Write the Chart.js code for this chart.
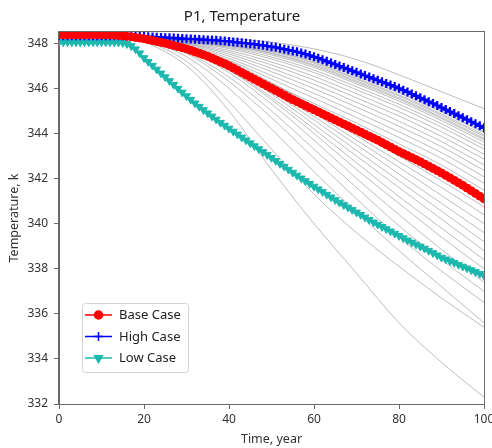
<!DOCTYPE html>
<html>
<head>
<meta charset="utf-8">
<script src="https://cdn.jsdelivr.net/npm/chart.js@4.4.1/dist/chart.umd.min.js"></script>
<style>
  html, body { margin: 0; padding: 0; background: #fff; overflow: hidden; }
  #wrap { width: 492px; height: 448px; position: relative; }
</style>
</head>
<body>
<div id="wrap"><canvas id="temp-chart"></canvas></div>
<script>
// P1 temperature ensemble: three named cases plus the other realizations (grey)
const years = [
    0, 1, 2, 3, 4, 5, 6, 7, 8, 9, 10, 11, 12, 13, 14, 15, 16, 17, 18, 19,
    20, 21, 22, 23, 24, 25, 26, 27, 28, 29, 30, 31, 32, 33, 34, 35, 36, 37, 38, 39,
    40, 41, 42, 43, 44, 45, 46, 47, 48, 49, 50, 51, 52, 53, 54, 55, 56, 57, 58, 59,
    60, 61, 62, 63, 64, 65, 66, 67, 68, 69, 70, 71, 72, 73, 74, 75, 76, 77, 78, 79,
    80, 81, 82, 83, 84, 85, 86, 87, 88, 89, 90, 91, 92, 93, 94, 95, 96, 97, 98, 99, 100
];

const baseCase = [
    348.38, 348.38, 348.38, 348.38, 348.38, 348.38, 348.38, 348.38, 348.38, 348.38,
    348.38, 348.38, 348.37, 348.36, 348.35, 348.33, 348.31, 348.29, 348.26, 348.23,
    348.20, 348.16, 348.12, 348.08, 348.04, 348.00, 347.95, 347.90, 347.85, 347.80,
    347.75, 347.69, 347.62, 347.56, 347.49, 347.42, 347.34, 347.26, 347.17, 347.09,
    347.00, 346.90, 346.80, 346.70, 346.60, 346.50, 346.40, 346.30, 346.20, 346.10,
    346.00, 345.90, 345.80, 345.70, 345.60, 345.50, 345.41, 345.32, 345.23, 345.14,
    345.05, 344.96, 344.87, 344.78, 344.69, 344.60, 344.51, 344.42, 344.33, 344.24,
    344.15, 344.06, 343.97, 343.88, 343.79, 343.70, 343.60, 343.50, 343.40, 343.30,
    343.20, 343.11, 343.02, 342.93, 342.84, 342.75, 342.65, 342.55, 342.45, 342.35,
    342.25, 342.14, 342.03, 341.92, 341.81, 341.70, 341.58, 341.46, 341.34, 341.22,
    341.10
];

const highCase = [
    348.33, 348.33, 348.33, 348.33, 348.33, 348.33, 348.33, 348.33, 348.33, 348.33,
    348.33, 348.33, 348.33, 348.33, 348.33, 348.33, 348.32, 348.32, 348.31, 348.31,
    348.30, 348.29, 348.28, 348.27, 348.26, 348.25, 348.24, 348.23, 348.22, 348.21,
    348.20, 348.19, 348.18, 348.17, 348.16, 348.15, 348.14, 348.13, 348.11, 348.10,
    348.08, 348.06, 348.04, 348.02, 348.00, 347.98, 347.96, 347.93, 347.91, 347.88,
    347.85, 347.82, 347.78, 347.74, 347.70, 347.66, 347.62, 347.57, 347.52, 347.46,
    347.40, 347.34, 347.27, 347.20, 347.13, 347.06, 346.99, 346.92, 346.85, 346.78,
    346.71, 346.64, 346.57, 346.50, 346.43, 346.36, 346.29, 346.22, 346.15, 346.08,
    346.00, 345.92, 345.84, 345.75, 345.67, 345.58, 345.50, 345.41, 345.33, 345.24,
    345.15, 345.06, 344.97, 344.88, 344.79, 344.70, 344.61, 344.52, 344.43, 344.34,
    344.25
];

const lowCase = [
    348.05, 348.05, 348.05, 348.05, 348.05, 348.05, 348.05, 348.05, 348.05, 348.05,
    348.05, 348.05, 348.05, 348.05, 348.04, 348.02, 347.97, 347.88, 347.74, 347.56,
    347.35, 347.18, 347.01, 346.84, 346.67, 346.50, 346.33, 346.16, 345.99, 345.82,
    345.66, 345.50, 345.34, 345.19, 345.04, 344.90, 344.76, 344.62, 344.48, 344.35,
    344.22, 344.09, 343.96, 343.83, 343.70, 343.57, 343.44, 343.31, 343.18, 343.05,
    342.92, 342.79, 342.66, 342.53, 342.40, 342.27, 342.14, 342.01, 341.89, 341.77,
    341.65, 341.53, 341.41, 341.29, 341.17, 341.05, 340.94, 340.83, 340.72, 340.61,
    340.50, 340.39, 340.28, 340.17, 340.06, 339.96, 339.86, 339.76, 339.66, 339.56,
    339.46, 339.36, 339.26, 339.17, 339.08, 338.99, 338.90, 338.80, 338.70, 338.60,
    338.50, 338.42, 338.34, 338.26, 338.18, 338.10, 338.02, 337.94, 337.86, 337.78,
    337.70
];

// other realizations, sampled every 10 years
const runYears = [0, 10, 20, 30, 40, 50, 60, 70, 80, 90, 100];
const otherRuns = [
    [348.33, 348.33, 348.32, 348.28, 348.20, 348.05, 347.75, 347.28, 346.60, 345.85, 345.10],
    [348.33, 348.33, 348.30, 348.19, 348.06, 347.81, 347.35, 346.66, 345.94, 345.09, 344.19],
    [348.33, 348.33, 348.30, 348.18, 348.03, 347.76, 347.28, 346.58, 345.86, 345.00, 344.09],
    [348.33, 348.33, 348.29, 348.17, 348.00, 347.72, 347.24, 346.53, 345.80, 344.95, 344.03],
    [348.34, 348.34, 348.29, 348.16, 347.97, 347.67, 347.17, 346.45, 345.72, 344.86, 343.94],
    [348.34, 348.34, 348.29, 348.15, 347.95, 347.63, 347.12, 346.40, 345.66, 344.80, 343.87],
    [348.34, 348.34, 348.29, 348.13, 347.92, 347.57, 347.05, 346.33, 345.58, 344.72, 343.78],
    [348.34, 348.34, 348.28, 348.12, 347.90, 347.54, 347.00, 346.27, 345.52, 344.66, 343.72],
    [348.34, 348.34, 348.28, 348.11, 347.86, 347.48, 346.93, 346.20, 345.44, 344.57, 343.62],
    [348.34, 348.34, 348.28, 348.09, 347.81, 347.39, 346.81, 346.07, 345.30, 344.43, 343.46],
    [348.35, 348.35, 348.27, 348.07, 347.76, 347.30, 346.70, 345.94, 345.16, 344.28, 343.31],
    [348.35, 348.35, 348.26, 348.03, 347.68, 347.17, 346.53, 345.76, 344.96, 344.08, 343.08],
    [348.35, 348.35, 348.26, 348.00, 347.60, 347.04, 346.37, 345.58, 344.77, 343.87, 342.86],
    [348.36, 348.36, 348.25, 347.97, 347.52, 346.89, 346.18, 345.38, 344.54, 343.64, 342.61],
    [348.36, 348.36, 348.24, 347.93, 347.43, 346.74, 345.99, 345.17, 344.32, 343.41, 342.36],
    [348.36, 348.36, 348.23, 347.89, 347.33, 346.57, 345.78, 344.94, 344.07, 343.15, 342.08],
    [348.37, 348.37, 348.22, 347.85, 347.24, 346.41, 345.57, 344.71, 343.82, 342.89, 341.79],
    [348.37, 348.37, 348.21, 347.80, 347.13, 346.22, 345.33, 344.46, 343.54, 342.60, 341.48],
    [348.38, 348.38, 348.27, 347.90, 347.20, 346.25, 345.20, 344.10, 343.00, 341.90, 340.75],
    [348.38, 348.38, 348.27, 347.88, 347.15, 346.15, 345.05, 343.90, 342.75, 341.60, 340.40],
    [348.38, 348.38, 348.26, 347.85, 347.10, 346.05, 344.90, 343.70, 342.50, 341.25, 340.00],
    [348.37, 348.37, 348.25, 347.82, 347.05, 345.95, 344.75, 343.50, 342.20, 340.90, 339.60],
    [348.37, 348.37, 348.25, 347.80, 347.00, 345.85, 344.60, 343.25, 341.90, 340.55, 339.20],
    [348.37, 348.37, 348.24, 347.78, 346.95, 345.75, 344.40, 343.00, 341.60, 340.20, 338.80],
    [348.37, 348.37, 348.23, 347.75, 346.85, 345.60, 344.20, 342.70, 341.20, 339.80, 338.40],
    [348.36, 348.36, 348.22, 347.72, 346.80, 345.50, 344.00, 342.40, 340.90, 339.40, 338.00],
    [348.36, 348.36, 348.22, 347.70, 346.70, 345.30, 343.70, 342.00, 340.40, 338.85, 337.40],
    [348.36, 348.36, 348.20, 347.60, 346.50, 345.00, 343.30, 341.60, 339.90, 338.40, 337.00],
    [348.35, 348.35, 348.20, 347.55, 346.30, 344.70, 342.90, 341.10, 339.40, 337.90, 336.50],
    [348.35, 348.35, 348.15, 347.40, 346.00, 344.20, 342.30, 340.50, 338.80, 337.20, 335.60],
    [348.35, 348.35, 348.10, 347.20, 345.40, 343.30, 341.30, 339.60, 338.10, 336.70, 335.40],
    [348.35, 348.35, 348.05, 347.00, 345.00, 342.40, 340.00, 337.80, 335.60, 333.85, 332.30]
];

const xTicks = [0, 20, 40, 60, 80, 100];
const yTicks = [332, 334, 336, 338, 340, 342, 344, 346, 348];

const FONT = "'Noto Sans', 'DejaVu Sans', sans-serif";

const cases = [
    { label: 'Base Case', values: baseCase, color: '#ff0000', pointStyle: 'circle', rotation: 0, radius: 4, pointBorder: 1 },
    { label: 'High Case', values: highCase, color: '#0000ff', pointStyle: 'cross', rotation: 0, radius: 4.5, pointBorder: 2.2 },
    { label: 'Low Case', values: lowCase, color: '#1cb8ae', pointStyle: 'triangle', rotation: 180, radius: 4.5, pointBorder: 1 }
];

const caseDatasets = cases.map(c => ({
    label: c.label,
    data: years.map((x, i) => ({ x, y: c.values[i] })),
    borderColor: c.color,
    backgroundColor: c.color,
    borderWidth: 1.5,
    pointStyle: c.pointStyle,
    pointRotation: c.rotation,
    pointRadius: c.radius,
    pointBorderWidth: c.pointBorder,
    pointBackgroundColor: c.color,
    pointBorderColor: c.color,
    clip: 0
}));

const runDatasets = otherRuns.map((run, k) => ({
    label: 'run ' + (k + 1),
    data: runYears.map((x, i) => ({ x, y: run[i] })),
    borderColor: 'rgba(125, 125, 125, 0.5)',
    borderWidth: 1,
    pointRadius: 0,
    cubicInterpolationMode: 'monotone',
    clip: 0
}));

// matplotlib-like frame around the plot area
const frame = {
    id: 'frame',
    afterDatasetsDraw(chart) {
        const { ctx, chartArea: a } = chart;
        ctx.save();
        ctx.strokeStyle = '#6a6a6a';
        ctx.lineWidth = 1;
        ctx.strokeRect(a.left - 0.5, a.top - 0.5, a.right - a.left + 1, a.bottom - a.top + 1);
        ctx.restore();
    }
};

// legend box drawn inside the plot, lower left
const boxLegend = {
    id: 'boxLegend',
    afterDraw(chart) {
        const { ctx, chartArea: a } = chart;
        const x0 = a.left + 23, y0 = a.bottom - 101, w = 106, h = 69;
        ctx.save();
        ctx.fillStyle = 'rgba(255,255,255,0.85)';
        ctx.strokeStyle = '#d4d4d4';
        ctx.lineWidth = 1;
        ctx.beginPath();
        ctx.roundRect(x0 + 0.5, y0 + 0.5, w, h, 3);
        ctx.fill();
        ctx.stroke();
        cases.forEach((c, i) => {
            const y = y0 + 12 + i * 21.5;
            ctx.strokeStyle = c.color;
            ctx.lineWidth = 1.5;
            ctx.beginPath();
            ctx.moveTo(x0 + 3, y);
            ctx.lineTo(x0 + 30, y);
            ctx.stroke();
            ctx.fillStyle = c.color;
            Chart.helpers.drawPoint(ctx, {
                pointStyle: c.pointStyle, rotation: c.rotation,
                radius: c.radius, borderWidth: c.pointBorder
            }, x0 + 16.5, y);
            ctx.fillStyle = '#222';
            ctx.font = '13px ' + FONT;
            ctx.textBaseline = 'middle';
            ctx.fillText(c.label, x0 + 37, y + 0.5);
        });
        ctx.restore();
    }
};

const ctx = document.getElementById('temp-chart').getContext('2d');
new Chart(ctx, {
    type: 'line',
    data: { datasets: [...caseDatasets, ...runDatasets] },
    plugins: [frame, boxLegend],
    options: {
        responsive: true,
        maintainAspectRatio: false,
        animation: false,
        devicePixelRatio: 1,
        layout: { padding: { left: 0, right: 8, top: 0, bottom: 0 } },
        plugins: {
            legend: { display: false },
            tooltip: { enabled: false },
            title: {
                display: true,
                text: 'P1, Temperature',
                color: '#222',
                font: { family: FONT, size: 15, weight: 'normal' },
                padding: { top: 8, bottom: 6 }
            }
        },
        scales: {
            x: {
                type: 'linear',
                min: 0,
                max: 100,
                afterBuildTicks: s => { s.ticks = xTicks.map(v => ({ value: v })); },
                afterFit: s => { s.height = 44; s.paddingLeft = 0; s.paddingRight = 0; },
                grid: { drawOnChartArea: false, drawTicks: true, tickLength: 5, color: '#6a6a6a' },
                border: { display: true, color: '#6a6a6a' },
                ticks: { color: '#333', padding: 3, maxRotation: 0, font: { family: FONT, size: 12 } },
                title: {
                    display: true, text: 'Time, year', color: '#333',
                    font: { family: FONT, size: 12.5 }, padding: { top: 0, bottom: 1 }
                }
            },
            y: {
                type: 'linear',
                min: 332,
                max: 348.5,
                afterBuildTicks: s => { s.ticks = yTicks.map(v => ({ value: v })); },
                afterFit: s => { s.width = 59; s.paddingTop = 0; s.paddingBottom = 0; },
                grid: { drawOnChartArea: false, drawTicks: true, tickLength: 5, color: '#6a6a6a' },
                border: { display: true, color: '#6a6a6a' },
                ticks: { color: '#333', padding: 6, font: { family: FONT, size: 12 } },
                title: {
                    display: true, text: 'Temperature, k', color: '#333',
                    font: { family: FONT, size: 12.5 }, padding: { top: 7, bottom: 0 }
                }
            }
        }
    }
});
</script>
</body>
</html>
